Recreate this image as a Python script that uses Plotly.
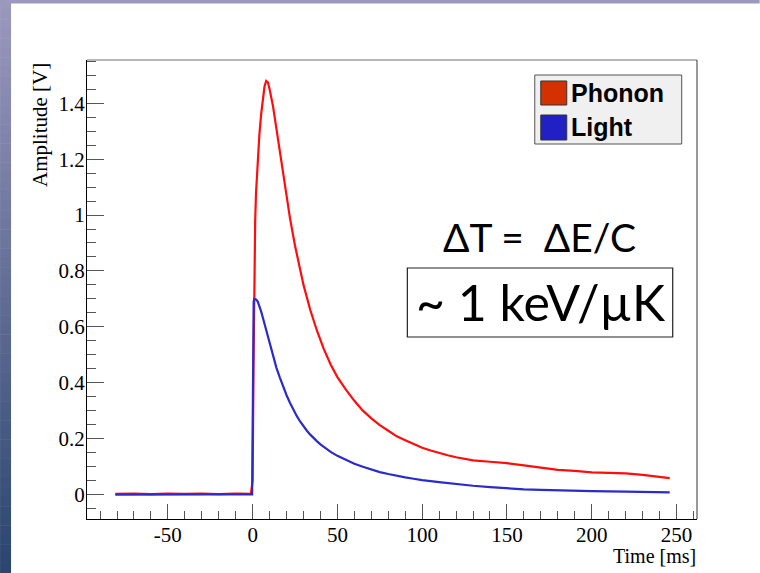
import plotly.graph_objects as go

# ---------------- data ----------------
phonon_t = [-81, -70, -60, -50, -40, -30, -20, -10, -1,
            0, 0.5, 1, 1.5, 2, 2.5, 3, 4, 5, 6, 7, 8, 9, 10, 12, 14, 16, 18, 20, 22, 25, 28,
            30, 34, 38, 42, 46, 50, 55, 60, 65, 70, 75, 80, 85, 90, 95, 100, 105, 110, 115,
            120, 125, 130, 140, 150, 160, 170, 175, 180, 190, 200, 210, 220, 230, 240, 246]
phonon_v = [0.002, 0.003, 0.001, 0.003, 0.002, 0.003, 0.001, 0.003, 0.002,
            0.05, 0.45, 0.80, 0.98, 1.08, 1.14, 1.20, 1.29, 1.36, 1.42, 1.46, 1.48, 1.475, 1.45,
            1.39, 1.31, 1.23, 1.14, 1.06, 0.99, 0.89, 0.80, 0.75, 0.66, 0.585, 0.52, 0.465, 0.42,
            0.375, 0.335, 0.30, 0.272, 0.248, 0.228, 0.208, 0.194, 0.180, 0.167, 0.157, 0.148,
            0.140, 0.133, 0.127, 0.122, 0.117, 0.112, 0.104, 0.095, 0.093, 0.088, 0.084, 0.079,
            0.077, 0.075, 0.070, 0.064, 0.058]

light_t = [-81, -60, -40, -20, -0.3,
           0, 0.3, 0.6, 1, 2, 3, 4, 5, 6, 7, 8, 9, 10, 11, 12, 14, 16, 18, 20, 22, 24, 26, 28,
           30, 32, 34, 36, 38, 40, 43, 46, 50, 55, 60, 65, 70, 75, 80, 85, 90, 95, 100, 110,
           120, 130, 140, 150, 160, 170, 180, 190, 200, 220, 240, 246]
light_v = [-0.001, 0.000, -0.001, 0.000, 0.000,
           0.30, 0.60, 0.69, 0.700, 0.698, 0.690, 0.675, 0.655, 0.633, 0.610, 0.585, 0.560,
           0.537, 0.515, 0.493, 0.454, 0.419, 0.386, 0.355, 0.328, 0.303, 0.281, 0.261, 0.243,
           0.228, 0.214, 0.201, 0.190, 0.179, 0.165, 0.152, 0.138, 0.123, 0.110, 0.099, 0.089,
           0.080, 0.073, 0.066, 0.061, 0.056, 0.051, 0.044, 0.037, 0.031, 0.026, 0.021, 0.018,
           0.016, 0.014, 0.013, 0.012, 0.010, 0.008, 0.007]

x_tickvals = [-50, 0, 50, 100, 150, 200, 250]
x_ticktext = ["-50", "0", "50", "100", "150", "200", "250"]
y_tickvals = [0, 0.2, 0.4, 0.6, 0.8, 1.0, 1.2, 1.4]
y_ticktext = ["0", "0.2", "0.4", "0.6", "0.8", "1", "1.2", "1.4"]

legend_labels = ["Phonon", "Light"]

# ---------------- layout geometry (pixels) ----------------
W, H = 760, 573
L, R, T, B = 87, 697.3, 60, 519


def px(xp):
    return (xp - L) / (R - L)


def py(yp):
    return (B - yp) / (B - T)


fig = go.Figure()
fig.add_trace(go.Scatter(x=phonon_t, y=phonon_v, mode="lines",
                         line=dict(color="#ff0d0d", width=2.2), showlegend=False))
fig.add_trace(go.Scatter(x=light_t, y=light_v, mode="lines",
                         line=dict(color="#2b2bcc", width=2.2), showlegend=False))

serif = "Liberation Serif"

fig.update_layout(
    width=W, height=H,
    margin=dict(l=L, r=W - R, t=T, b=H - B, pad=0),
    paper_bgcolor="white", plot_bgcolor="white",
    xaxis=dict(range=[-97.7, 262.1], showgrid=False, zeroline=False,
               showline=True, linecolor="black", linewidth=1,
               ticks="inside", ticklen=15, tickcolor="#555", tickwidth=1,
               tickvals=x_tickvals, ticktext=x_ticktext, ticklabelstandoff=-3,
               tickfont=dict(family=serif, size=21, color="black"),
               minor=dict(ticks="inside", ticklen=8, tickcolor="#555", dtick=10, tick0=0)),
    yaxis=dict(range=[-0.088, 1.555], showgrid=False, zeroline=False,
               showline=True, linecolor="black", linewidth=1,
               ticks="inside", ticklen=17, tickcolor="#555", tickwidth=1,
               tickvals=y_tickvals, ticktext=y_ticktext, ticklabelstandoff=-3,
               tickfont=dict(family=serif, size=21, color="black"),
               minor=dict(ticks="inside", ticklen=9, tickcolor="#555", dtick=0.05, tick0=0)),
)

shapes = []
# slide background gradient strips
N = 60
c0 = (0x9c, 0x98, 0xbe)
c1 = (0x2a, 0x45, 0x6e)
for i in range(N):
    f = (i + 0.5) / N
    col = "rgb(%d,%d,%d)" % tuple(round(a + (b - a) * f) for a, b in zip(c0, c1))
    y0 = H * i / N
    y1 = H * (i + 1) / N + 0.5
    shapes.append(dict(type="rect", xref="paper", yref="paper",
                       x0=px(0), x1=px(11), y0=py(y1), y1=py(y0),
                       fillcolor=col, line=dict(width=0)))
shapes.append(dict(type="rect", xref="paper", yref="paper",
                   x0=px(0), x1=px(W), y0=py(3.5), y1=py(0),
                   fillcolor="rgb(156,152,190)", line=dict(width=0)))
# frame top / right
shapes.append(dict(type="line", xref="paper", yref="paper", x0=0, x1=1, y0=1, y1=1,
                   line=dict(color="#a0a0a0", width=1.5)))
shapes.append(dict(type="line", xref="paper", yref="paper", x0=1, x1=1, y0=0, y1=1,
                   line=dict(color="#333333", width=1)))
# legend box
shapes.append(dict(type="rect", xref="paper", yref="paper",
                   x0=px(535), x1=px(682), y0=py(144), y1=py(75),
                   fillcolor="#f0f0f0", line=dict(color="#555555", width=1)))
shapes.append(dict(type="rect", xref="paper", yref="paper",
                   x0=px(541), x1=px(567), y0=py(105), y1=py(81),
                   fillcolor="#d43000", line=dict(color="#333333", width=1)))
shapes.append(dict(type="rect", xref="paper", yref="paper",
                   x0=px(541), x1=px(567), y0=py(140), y1=py(115),
                   fillcolor="#2020c4", line=dict(color="#333333", width=1)))
# box round "~ 1 keV/µK"
shapes.append(dict(type="rect", xref="paper", yref="paper",
                   x0=px(407.5), x1=px(673), y0=py(337), y1=py(268),
                   fillcolor="rgba(0,0,0,0)", line=dict(color="#222222", width=1.2)))
fig.update_layout(shapes=shapes)

ann = []
ann.append(dict(text="Amplitude [V]", xref="paper", yref="paper", x=px(40), y=py(61),
                xanchor="center", yanchor="top", textangle=-90, showarrow=False,
                font=dict(family=serif, size=21, color="black")))
ann.append(dict(text="Time [ms]", xref="paper", yref="paper", x=px(698), y=py(556),
                xanchor="right", yanchor="middle", showarrow=False,
                font=dict(family=serif, size=20, color="black")))
ann.append(dict(text=legend_labels[0], xref="paper", yref="paper", x=px(569), y=py(93),
                xanchor="left", yanchor="middle", showarrow=False,
                font=dict(family="Liberation Sans", size=25, color="black", weight="bold")))
ann.append(dict(text=legend_labels[1], xref="paper", yref="paper", x=px(569), y=py(127),
                xanchor="left", yanchor="middle", showarrow=False,
                font=dict(family="Liberation Sans", size=25, color="black", weight="bold")))
ann.append(dict(text="ΔT = \u00a0ΔE/C", xref="paper", yref="paper", x=px(540), y=py(237),
                xanchor="center", yanchor="middle", showarrow=False,
                font=dict(family="Lato", size=39, color="black")))
ann.append(dict(text="~ 1 keV/µK", xref="paper", yref="paper", x=px(541), y=py(302),
                xanchor="center", yanchor="middle", showarrow=False,
                font=dict(family="Lato", size=50, color="black")))
fig.update_layout(annotations=ann)

fig.write_html("out.html")
